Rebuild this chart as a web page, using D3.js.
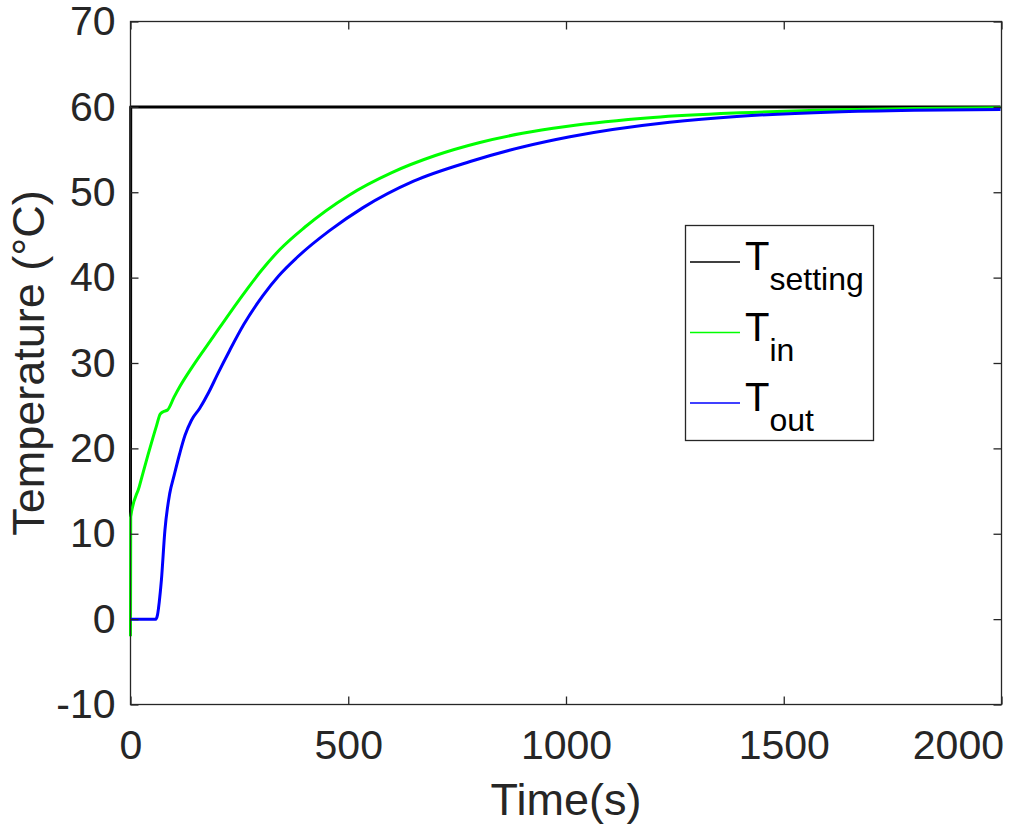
<!DOCTYPE html>
<html>
<head>
<meta charset="utf-8">
<script src="https://cdn.jsdelivr.net/npm/d3@7"></script>
<style>
  body { margin: 0; background: #fff; }
  svg { display: block; font-family: "Liberation Sans", Arial, sans-serif; }
</style>
</head>
<body>
<svg id="chart" width="1017" height="829"></svg>
<script>
// time (s) / temperature (°C)
const settingData = [[0, 12], [0.5, 60], [2000, 60]]

const inData = [
  [0, -2], [0.5, 12], [20, 15.5], [40, 19.2], [60, 22.7], [68, 24], [75, 24.3], [85, 24.5],
  [100, 26], [114, 27.3], [140, 29.4], [189, 33], [230, 36], [267, 38.6], [300, 40.8],
  [343, 43.3], [400, 45.9], [500, 49.6], [600, 52.3], [700, 54.3], [800, 55.8], [900, 56.9],
  [1000, 57.7], [1200, 58.75], [1400, 59.3], [1600, 59.63], [1800, 59.8], [2000, 59.9]
]

const outData = [
  [0, 0], [58, 0], [62, 0.5], [66, 2], [71, 4.6], [79, 10.4], [90, 14.7], [100, 16.8],
  [113, 19.4], [125, 21.5], [140, 23.3], [159, 24.7], [180, 26.6], [200, 28.7], [228, 31.5],
  [260, 34.5], [304, 37.9], [340, 40.2], [381, 42.3], [457, 45.5], [534, 48.2], [650, 51.3],
  [780, 53.6], [900, 55.3], [1009, 56.5], [1238, 58.2], [1400, 58.9], [1616, 59.4],
  [1800, 59.6], [2000, 59.7]
]

const xTicks = [0, 500, 1000, 1500, 2000]
const yTicks = [-10, 0, 10, 20, 30, 40, 50, 60, 70]

const series = [
  { name: 'setting', data: settingData, color: '#000000', curve: d3.curveLinear },
  { name: 'in', data: inData, color: '#00ff00', curve: d3.curveMonotoneX },
  { name: 'out', data: outData, color: '#0000ff', curve: d3.curveMonotoneX }
]

const width = 1017, height = 829
const marginLeft = 130.5, marginRight = 15.5, marginTop = 21.5, marginBottom = 124.5
const axisColor = '#262626'

const svg = d3.select('#chart')

const x = d3.scaleLinear().domain([0, 2000]).range([marginLeft, width - marginRight])
const y = d3.scaleLinear().domain([-10, 70]).range([height - marginBottom, marginTop])

// lines, clipped a little outside the box so the edge strokes stay whole
svg.append('clipPath').attr('id', 'clip')
  .append('rect')
  .attr('x', marginLeft - 3).attr('y', marginTop - 3)
  .attr('width', x.range()[1] - marginLeft + 2)
  .attr('height', y.range()[0] - marginTop + 6)

const line = d3.line().x(d => x(d[0])).y(d => y(d[1]))

svg.append('g').attr('clip-path', 'url(#clip)')
  .selectAll('path')
  .data(series)
  .enter()
  .append('path')
  .attr('fill', 'none')
  .attr('stroke', d => d.color)
  .attr('stroke-width', 3)
  .attr('stroke-linejoin', 'round')
  .attr('d', d => line.curve(d.curve)(d.data))

// axes, ticks pointing inward on all four sides
const styleAxis = g => {
  g.select('.domain').remove()
  g.selectAll('.tick line').attr('stroke', axisColor).attr('stroke-width', 1.3)
  g.selectAll('.tick text').attr('fill', axisColor).style('font-size', '41px')
}
const fmt = d => String(d)

svg.append('g')
  .attr('transform', `translate(0,${y.range()[0]})`)
  .call(d3.axisBottom(x).tickValues(xTicks).tickFormat(fmt).tickSize(-8).tickPadding(25))
  .call(styleAxis)
  // last label kept inside the figure, like the original
  .call(g => g.selectAll('.tick text')
    .filter(d => d === xTicks[xTicks.length - 1])
    .attr('text-anchor', 'end')
    .attr('x', 2))

svg.append('g')
  .attr('transform', `translate(0,${marginTop})`)
  .call(d3.axisTop(x).tickValues(xTicks).tickSize(-8).tickFormat(''))
  .call(styleAxis)

svg.append('g')
  .attr('transform', `translate(${marginLeft},0)`)
  .call(d3.axisLeft(y).tickValues(yTicks).tickFormat(fmt).tickSize(-8).tickPadding(15))
  .call(styleAxis)

svg.append('g')
  .attr('transform', `translate(${x.range()[1]},0)`)
  .call(d3.axisRight(y).tickValues(yTicks).tickSize(-8).tickFormat(''))
  .call(styleAxis)

svg.append('rect')
  .attr('x', marginLeft).attr('y', marginTop)
  .attr('width', x.range()[1] - marginLeft)
  .attr('height', y.range()[0] - marginTop)
  .attr('fill', 'none')
  .attr('stroke', axisColor)
  .attr('stroke-width', 1.3)

// axis titles
svg.append('text')
  .attr('x', (marginLeft + x.range()[1]) / 2)
  .attr('y', 815)
  .attr('text-anchor', 'middle')
  .attr('fill', axisColor)
  .style('font-size', '45px')
  .text('Time(s)')

svg.append('text')
  .attr('transform', `translate(44,${(marginTop + y.range()[0]) / 2}) rotate(-90)`)
  .attr('text-anchor', 'middle')
  .attr('fill', axisColor)
  .style('font-size', '45px')
  .text('Temperature (°C)')

// legend
const legend = svg.append('g')
legend.append('rect')
  .attr('x', 685.5).attr('y', 225.5)
  .attr('width', 188).attr('height', 215)
  .attr('fill', '#fff')
  .attr('stroke', axisColor)
  .attr('stroke-width', 1.3)

const items = legend.selectAll('g.item')
  .data(series)
  .enter()
  .append('g').attr('class', 'item')
  .attr('transform', (d, i) => `translate(0,${262 + i * 70.5})`)

items.append('line')
  .attr('x1', 690).attr('x2', 740)
  .attr('stroke', d => d.color)
  .attr('stroke-width', 1.5)

const label = items.append('text')
  .attr('x', 745).attr('y', 8)
  .attr('fill', '#000')
  .style('font-size', '40px')

label.append('tspan').text('T')
label.append('tspan')
  .attr('dy', 20)
  .style('font-size', '32px')
  .text(d => d.name)
</script>
</body>
</html>
